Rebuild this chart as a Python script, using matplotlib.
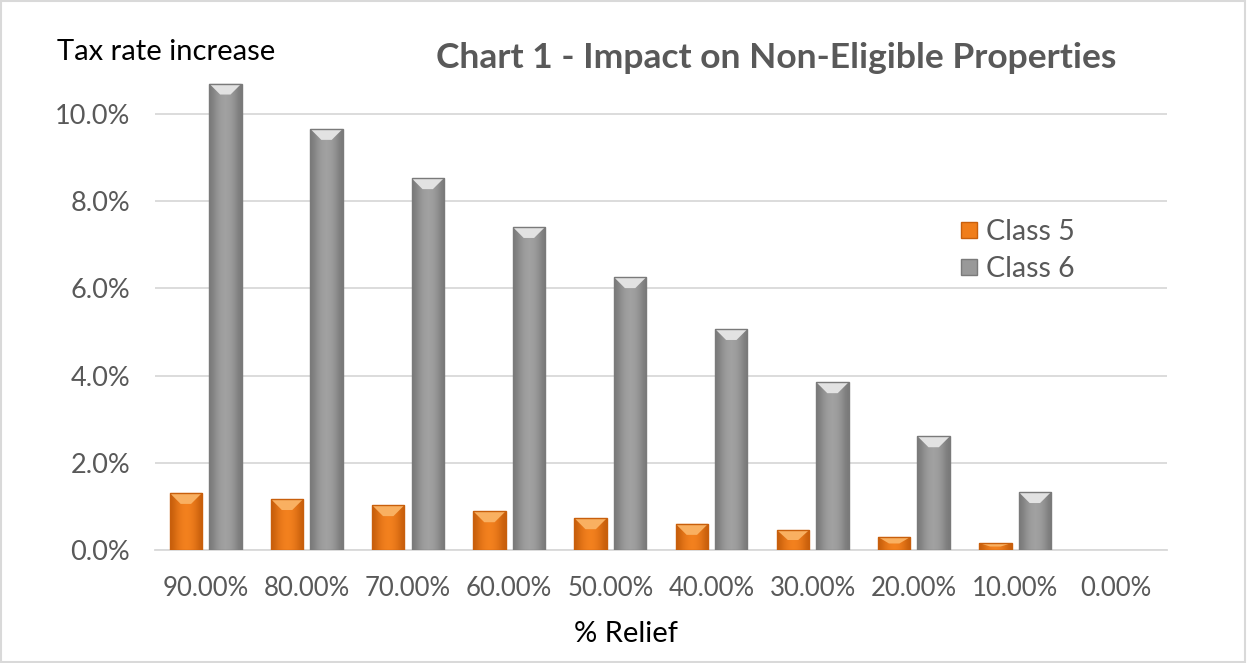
import numpy as np
import matplotlib
matplotlib.use("Agg")
import matplotlib.pyplot as plt
from matplotlib.patches import Polygon, Rectangle
from matplotlib.lines import Line2D

plt.rcParams['font.family'] = ['Lato', 'DejaVu Sans']

# Data: tax rate increase (%) for each level of relief
relief_labels = ["90.00%", "80.00%", "70.00%", "60.00%", "50.00%",
                 "40.00%", "30.00%", "20.00%", "10.00%", "0.00%"]
class5 = [1.31, 1.17, 1.03, 0.89, 0.73, 0.60, 0.46, 0.30, 0.16, 0.0]
class6 = [10.70, 9.66, 8.53, 7.41, 6.26, 5.07, 3.85, 2.61, 1.33, 0.0]
y_ticks = [0, 2, 4, 6, 8, 10]

TEXT_GRAY = "#595959"
GRID = "#d9d9d9"

fig = plt.figure(figsize=(12.47, 6.63), dpi=100)
ax = fig.add_axes([0.1243, 0.1704, 0.8115, 0.7069])

x = np.arange(len(relief_labels))
width = 0.32
offset = 0.195

ax.set_xlim(-0.5, len(relief_labels) - 0.5)
ax.set_ylim(0, 10.75)

def shaded_bars(xpos, values, dark, mid, light):
    bars = ax.bar(xpos, values, width, color=mid, linewidth=0, zorder=3)
    grad = np.array([[0.0, 0.55, 0.85, 1.0, 0.85, 0.55, 0.0]])
    cmap = matplotlib.colors.LinearSegmentedColormap.from_list("g", [dark, mid])
    px_per_unit_y = ax.bbox.height / (ax.get_ylim()[1] - ax.get_ylim()[0])
    px_per_unit_x = ax.bbox.width / (ax.get_xlim()[1] - ax.get_xlim()[0])
    for b, v in zip(bars, values):
        if v <= 0:
            continue
        x0, x1 = b.get_x(), b.get_x() + b.get_width()
        im = ax.imshow(grad, cmap=cmap, extent=[x0, x1, 0, v], aspect='auto',
                       interpolation='bicubic', zorder=3.1)
        im.set_clip_path(b)
        # bevelled top face
        dy = min(11.0 / px_per_unit_y, v * 0.5)
        dx = 11.0 / px_per_unit_x
        ax.add_patch(Polygon([(x0, v), (x1, v), (x1 - dx, v - dy), (x0 + dx, v - dy)],
                             closed=True, facecolor=light, edgecolor='none',
                             zorder=3.2))
        ax.add_patch(Rectangle((x0, 0), x1 - x0, v, facecolor='none',
                               edgecolor=dark, linewidth=1.0, zorder=3.3))
    return bars

shaded_bars(x - offset, class5, "#c85f0c", "#f5821f", "#f9b061")
shaded_bars(x + offset, class6, "#7a7a7a", "#a3a3a3", "#e2e2e2")
ax.set_xlim(-0.5, len(relief_labels) - 0.5)
ax.set_ylim(0, 10.75)

ax.set_yticks(y_ticks)
ax.set_yticklabels([f"{t:.1f}%" for t in y_ticks])
ax.set_xticks(x)
ax.set_xticklabels(relief_labels)
ax.tick_params(axis='y', length=0, labelsize=19.5, colors=TEXT_GRAY, pad=18)
ax.tick_params(axis='x', length=0, labelsize=18.5, colors=TEXT_GRAY, pad=19)
ax.grid(axis='y', color=GRID, linewidth=1.3, zorder=0)
for s in ['top', 'right', 'left']:
    ax.spines[s].set_visible(False)
ax.spines['bottom'].set_color(GRID)
ax.spines['bottom'].set_linewidth(1.3)

ax.set_xlabel("% Relief", fontsize=21, color="black")
ax.xaxis.set_label_coords(0.465, -0.152)

fig.text(57 / 1247, 1 - 52 / 663, "Tax rate increase", fontsize=21,
         color="black", va='center', ha='left')
fig.text(776 / 1247, 1 - 58 / 663, "Chart 1 - Impact on Non-Eligible Properties",
         fontsize=25.5, fontweight='bold', color=TEXT_GRAY, va='center', ha='center')

handles = [
    Line2D([], [], marker='s', linestyle='none', markersize=12,
           markerfacecolor="#f07d1a", markeredgecolor="#c85f0c"),
    Line2D([], [], marker='s', linestyle='none', markersize=12,
           markerfacecolor="#999999", markeredgecolor="#7a7a7a"),
]
fig.legend(handles, ["Class 5", "Class 6"], loc='upper left',
           bbox_to_anchor=(943 / 1247, 1 - 208 / 663), frameon=False,
           fontsize=20.5, labelcolor=TEXT_GRAY, handletextpad=0.12,
           labelspacing=0.38, handlelength=1.0, borderaxespad=0)

fig.add_artist(Rectangle((0.001, 0.002), 0.997, 0.996, transform=fig.transFigure,
                         facecolor='none', edgecolor=GRID, linewidth=1.5))

fig.savefig("out.png", dpi=100)
